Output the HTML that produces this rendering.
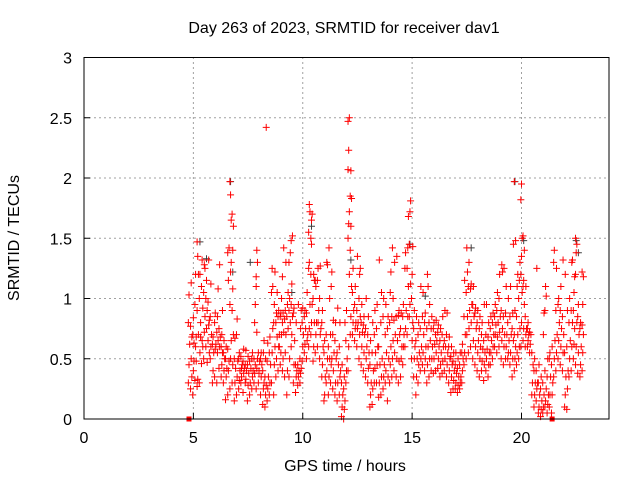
<!DOCTYPE html>
<html><head><meta charset="utf-8"><style>
html,body{margin:0;padding:0;background:#fff}
svg{display:block;font-family:"Liberation Sans",sans-serif}
</style></head><body>
<svg id="chart" width="640" height="480" viewBox="0 0 640 480" xmlns="http://www.w3.org/2000/svg">
<rect width="640" height="480" fill="#fff"/>
<text x="344" y="33" font-size="16" text-anchor="middle" fill="#000">Day 263 of 2023, SRMTID for receiver dav1</text>
<text x="345" y="471" font-size="16" text-anchor="middle" fill="#000">GPS time / hours</text>
<text x="19" y="238" font-size="16" text-anchor="middle" fill="#000" transform="rotate(-90 19 238)">SRMTID / TECUs</text>
<g id="grid"></g>
<g id="ticks"></g>
<g id="grayPts"></g>
<g id="redPts"></g>
<rect x="84" y="57.5" width="525" height="361.5" fill="none" stroke="#000" stroke-width="1"/>
</svg>
<script>
const xTicks=[0,5,10,15,20];
const yTicks=[0,0.5,1,1.5,2,2.5,3];
const yTickLabels=["0","0.5","1","1.5","2","2.5","3"];
const binStart=4.8;
const binStep=0.1;
const redBins=[
[0.3,0.45,0.62,0.8,1.03],[0.25,0.5,0.68,0.77,1.13,0.35],[0.2,0.4,0.63,0.7,0.84,0.48],[0.32,0.6,0.68,0.95,1.2,0.48],
[0.27,0.33,0.7,0.9,1.35,1.2,1.47],[0.3,0.55,0.8,1.0,1.2,0.68],[0.46,0.65,0.92,1.1,1.32,0.6],[0.5,0.72,0.85,1.05,1.28,1.25],
[0.6,0.75,0.9,1.0,1.15,0.47],[0.65,0.78,0.82,0.97,1.32,0.55],[0.5,0.6,0.7,0.85,1.12],[0.3,0.4,0.55,0.62,0.68],
[0.35,0.58,0.62,0.8,0.88],[0.3,0.55,0.65,0.72,0.85,1.08],[0.42,0.6,0.68,0.75,1.28],[0.35,0.45,0.55,0.6,0.7,0.9],
[0.3,0.4,0.5,0.55,0.65],[0.16,0.35,0.42,0.5,0.6],[0.2,0.4,0.48,0.58,1.15,1.42,1.38],[0.25,0.5,0.65,0.95,1.22,1.65,1.97,1.86,1.3],
[0.3,0.45,0.7,0.9,1.08,1.6,1.7,1.4],[0.15,0.3,0.42,0.5,0.67],[0.2,0.35,0.48,0.7,0.83],[0.25,0.32,0.4,0.5,0.55],
[0.3,0.35,0.45,0.52,0.42],[0.22,0.38,0.42,0.48,0.58],[0.3,0.33,0.4,0.45,0.57],[0.15,0.28,0.38,0.45,0.52],
[0.2,0.3,0.42,0.48],[0.25,0.35,0.4,0.5,0.55],[0.3,0.38,0.45,0.5,0.8,0.95],[0.25,0.42,0.5,1.1,1.4,1.3,1.18,0.72],
[0.3,0.4,0.48,0.55,0.38],[0.2,0.35,0.45,0.5,0.55],[0.12,0.25,0.3,0.4,0.55,0.65],[0.1,0.2,0.28,0.35,0.5,2.42],
[0.15,0.25,0.35,0.48,0.63],[0.2,0.3,0.45,0.55,0.68],[0.3,0.55,0.75,1.05,1.25,1.1],[0.2,0.45,0.6,0.8,0.95,1.22],
[0.35,0.5,0.68,0.8,0.88,1.05],[0.4,0.6,0.7,0.85,0.9,0.6],[0.45,0.55,0.7,0.85,0.88,1.0],[0.4,0.5,0.72,0.8,0.88,1.42,1.18],
[0.35,0.55,0.7,0.83,0.9,1.3],[0.2,0.4,0.75,0.85,0.95,1.05],[0.35,0.5,0.8,0.9,1.0,1.38,1.3],[0.6,0.7,0.85,0.95,1.12,1.52,1.48],
[0.3,0.45,0.65,0.88,0.92],[0.22,0.35,0.4,0.45,0.8],[0.28,0.35,0.4,0.45,0.95],[0.3,0.38,0.42,0.5,0.75,0.9],
[0.48,0.6,0.7,0.8,0.92],[0.55,0.62,0.75,0.85,0.9],[0.5,0.65,0.7,0.88,1.05],[0.6,0.75,0.95,1.25,1.78,1.72,1.55,1.3],
[0.7,0.8,0.95,1.2,1.65,1.7,1.5,1.45],[0.48,0.6,0.8,1.0,1.2,1.15],[0.55,0.7,0.8,1.15,1.1],[0.6,0.8,0.9,1.15,1.25],
[0.5,0.7,0.75,1.0,1.27],[0.35,0.45,0.6,0.8,0.9],[0.15,0.2,0.35,0.55,0.65],[0.3,0.4,0.5,0.7,1.3,1.28],
[0.2,0.35,0.5,0.6,1.42,1.0],[0.3,0.45,0.5,0.7,1.1,1.22],[0.25,0.4,0.55,0.7,0.82],[0.2,0.3,0.5,0.65,0.8],
[0.15,0.3,0.45,0.55,0.92],[0.2,0.35,0.4,0.6,0.8],[0.02,0.1,0.2,0.3,0.45],[0.0,0.08,0.15,0.25,0.35,0.8],
[0.3,0.4,0.5,0.65,0.9],[0.4,0.6,1.2,1.5,1.62,1.72,2.07,2.23,2.5,2.47],[0.7,0.85,1.1,1.4,1.6,1.83,1.85,2.06],[0.7,0.8,0.9,1.05,1.25],
[0.65,0.75,0.8,0.95,1.1],[0.6,0.75,0.8,0.9,1.35],[0.5,0.7,0.85,1.0,1.2,1.25],[0.45,0.6,0.72,0.8,0.95],
[0.4,0.55,0.7,0.78,0.85],[0.35,0.5,0.6,0.75,1.0],[0.3,0.42,0.55,0.7,0.85],[0.1,0.2,0.3,0.45,0.65],
[0.12,0.25,0.4,0.55,0.8],[0.3,0.42,0.55,0.7,0.9],[0.3,0.45,0.6,0.75,0.95],[0.18,0.3,0.45,0.6,1.32],
[0.2,0.35,0.5,0.8,1.05],[0.25,0.35,0.45,0.85,1.0],[0.3,0.4,0.55,0.7,0.95],[0.15,0.35,0.5,0.75,0.85],
[0.3,0.45,0.6,0.8,1.05,1.22],[0.35,0.5,0.65,0.85,1.42,1.0],[0.4,0.55,0.7,0.82,1.3],[0.35,0.5,0.65,0.85,1.35],
[0.3,0.48,0.7,0.86,0.9],[0.35,0.5,0.6,0.75,0.88],[0.45,0.6,0.7,0.85,0.95],[0.6,0.75,0.9,1.25,1.38],
[0.7,0.85,1.1,1.25,1.42,1.68],[0.85,0.95,1.12,1.45,1.72,1.81],[0.5,0.65,0.8,1.0,1.2,1.43],[0.35,0.5,0.6,0.75,0.9],
[0.2,0.35,0.5,0.65,0.85],[0.3,0.45,0.55,0.7,0.8],[0.4,0.5,0.6,0.75,1.1],[0.45,0.55,0.7,0.85,1.05],
[0.4,0.5,0.6,0.8,0.88],[0.3,0.45,0.6,0.75,1.2,1.1],[0.35,0.5,0.65,0.8,0.95],[0.4,0.5,0.6,0.75,0.85],
[0.38,0.5,0.62,0.75,0.8],[0.4,0.55,0.65,0.7,0.82],[0.42,0.5,0.6,0.72,0.78],[0.35,0.45,0.55,0.65,0.75],
[0.38,0.48,0.6,0.7,0.85],[0.4,0.5,0.6,0.65,0.9],[0.35,0.45,0.55,0.7,0.88],[0.3,0.4,0.5,0.6,0.68],
[0.22,0.35,0.45,0.52,0.6],[0.25,0.32,0.4,0.48,0.55],[0.25,0.3,0.38,0.45,0.55],[0.22,0.28,0.35,0.42,0.5],
[0.25,0.3,0.35,0.45,0.55],[0.3,0.4,0.5,0.55,0.62],[0.45,0.55,0.7,0.85,1.15],[0.5,0.7,0.85,1.05,1.42,1.22],
[0.55,0.75,0.9,1.1,1.3],[0.6,0.8,0.95,1.08,1.12],[0.5,0.65,0.85,0.95,1.1],[0.45,0.6,0.75,0.88,0.92],
[0.4,0.55,0.65,0.8,0.9],[0.35,0.5,0.6,0.75,0.85],[0.4,0.48,0.58,0.7,0.8],[0.32,0.45,0.55,0.65,0.95],
[0.4,0.5,0.58,0.7,0.95],[0.35,0.45,0.55,0.68,0.8],[0.45,0.55,0.65,0.75,0.85],[0.5,0.6,0.7,0.8,0.88],
[0.6,0.7,0.78,0.85,0.95],[0.55,0.68,0.8,0.9,1.05],[0.6,0.72,0.85,1.0,1.2],[0.5,0.65,0.75,0.9,1.28,1.22],
[0.45,0.6,0.7,0.85,1.25],[0.5,0.6,0.7,0.88,1.1],[0.5,0.55,0.65,0.8,1.0],[0.45,0.55,0.7,0.85,1.1],
[0.35,0.5,0.65,0.75,0.88,1.45],[0.4,0.5,0.6,0.7,0.9,1.48,1.97],[0.45,0.55,0.7,0.85,1.1,1.2],[0.5,0.6,0.75,1.0,1.15,1.3],
[0.6,0.8,1.05,1.2,1.35,1.5,1.82,1.95],[0.65,0.75,0.95,1.1,1.15,1.4,1.52],[0.6,0.7,0.75,0.85,1.1],[0.6,0.65,0.7,0.75,0.8],
[0.55,0.62,0.7,0.72],[0.2,0.3,0.45,0.55],[0.1,0.2,0.3,0.4,0.5],[0.15,0.25,0.3,0.4,1.25],
[0.05,0.1,0.2,0.3,0.45],[0.02,0.08,0.15,0.25,0.35],[0.05,0.1,0.2,0.3,0.7,0.88],[0.1,0.15,0.25,0.4,1.1,1.02,0.9],
[0.05,0.12,0.2,0.35,0.5],[0.1,0.2,0.35,0.5,0.55],[0.05,0.2,0.3,0.45,0.6],[0.35,0.5,0.65,1.3,1.4],
[0.4,0.55,0.7,0.9,1.25],[0.5,0.65,0.8,0.95,1.0],[0.45,0.6,0.75,0.9,1.1],[0.4,0.55,0.7,0.85,1.32],
[0.1,0.2,0.35,0.55,1.2],[0.08,0.25,0.4,0.6,0.9],[0.35,0.5,0.65,0.8,1.0],[0.4,0.6,0.8,0.9,1.3,1.32],
[0.5,0.62,0.75,0.9,1.05,1.18],[0.45,0.6,0.8,1.2,1.38,1.45,1.5],[0.38,0.55,0.7,0.85,0.95],[0.35,0.45,0.6,0.75,0.8],
[0.4,0.55,0.7,0.78,0.95,1.18,1.22]
];
const grayTimes=[5.3,5.6,6.7,6.8,7.6,9.5,10.4,12.2,14.9,15.6,17.7,19.7,20.1,22.5,22.6];
const grayValues=[1.47,1.33,1.97,1.22,1.3,1.05,1.6,1.32,1.45,1.02,1.42,1.97,1.48,1.48,1.38];
const squareTimes=[4.8,21.4];
const squareValues=[0,0];

const NS='http://www.w3.org/2000/svg';
const X0=84,X1=609,Y0=419,Y1=57.5,XMAX=24,YMAX=3;
function xs(t){return X0+(t/XMAX)*(X1-X0);}
function ys(v){return Y0-(v/YMAX)*(Y0-Y1);}
function mk(tag,attrs,parent){const e=document.createElementNS(NS,tag);for(const k in attrs)e.setAttribute(k,attrs[k]);parent.appendChild(e);return e;}
const grid=document.getElementById('grid'),ticks=document.getElementById('ticks');
xTicks.forEach(t=>{
  const x=xs(t);
  if(t>0){const g=mk('line',{x1:x,y1:Y0,x2:x,y2:Y1,stroke:'#a0a0a0','stroke-dasharray':'2,3','stroke-width':1},grid);
  
  }
  const tk=mk('line',{x1:x,y1:Y0,x2:x,y2:Y0-6,stroke:'#000'},ticks);
  
  
  const tx=mk('text',{x:x,y:443,'font-size':16,'text-anchor':'middle',fill:'#000'},ticks);
  tx.textContent=String(t);
  
  
});
yTicks.forEach((v,i)=>{
  const y=ys(v);
  if(v>0&&v<YMAX){const g=mk('line',{x1:X0,y1:y,x2:X1,y2:y,stroke:'#a0a0a0','stroke-dasharray':'2,3','stroke-width':1},grid);
  
  }
  const tk=mk('line',{x1:X0,y1:y,x2:X0+6,y2:y,stroke:'#000'},ticks);
  
  
  const tx=mk('text',{x:72,y:y+6,'font-size':16,'text-anchor':'end',fill:'#000'},ticks);
  tx.textContent=yTickLabels[i];
  
  
});
function plus(parent,t,v,color,name){
  const x=xs(t),y=ys(v);
  const p=mk('path',{d:`M${x-3.5},${y}H${x+3.5}M${x},${y-3.5}V${y+3.5}`,stroke:color,'stroke-width':1,fill:'none'},parent);
  
  
}
const gp=document.getElementById('grayPts'),rp=document.getElementById('redPts');
grayTimes.forEach((t,i)=>plus(gp,t,grayValues[i],'#404040','gray-point'));
redBins.forEach((vals,i)=>{
  const t=binStart+i*binStep;
  vals.forEach((v,j)=>plus(rp,t+((j%3)-1)*0.03,v,'#ff0000','red-point'));
});
squareTimes.forEach((t,i)=>{
  const s=mk('rect',{x:xs(t)-2.5,y:ys(squareValues[i])-2.5,width:5,height:5,fill:'#ff0000'},rp);
  
  
});
</script>
</body></html>
